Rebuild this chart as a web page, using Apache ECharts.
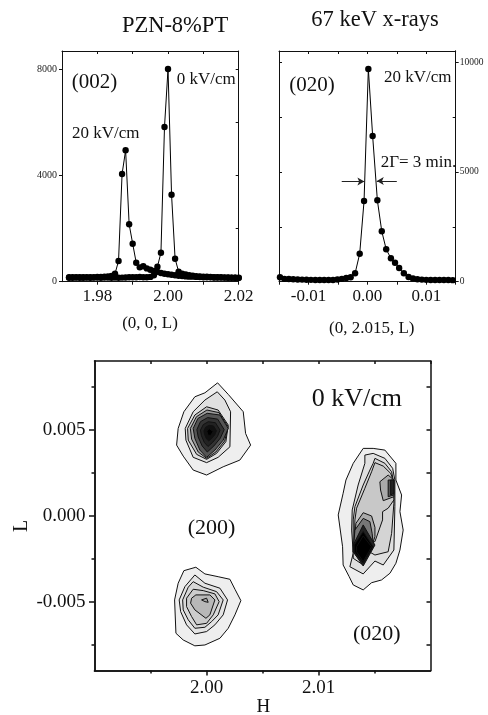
<!DOCTYPE html>
<html><head><meta charset="utf-8">
<style>html,body{margin:0;padding:0;background:#fff}#c{width:488px;height:715px}</style>
<script src="https://cdn.jsdelivr.net/npm/echarts@6/dist/echarts.min.js"></script>
</head><body><div id="c"></div>
<script>
// ---- Panel (002): scan along L
const scanL = [1.972,1.973,1.974,1.975,1.976,1.977,1.978,1.979,1.98,1.981,1.982,1.983,1.984,1.985,1.986,1.987,1.988,1.989,1.99,1.991,1.992,1.993,1.994,1.995,1.996,1.997,1.998,1.999,2.0,2.001,2.002,2.003,2.004,2.005,2.006,2.007,2.008,2.009,2.01,2.011,2.012,2.013,2.014,2.015,2.016,2.017,2.018,2.019,2.02];
const i0kV = [150,150,155,150,150,155,150,155,155,150,155,160,150,160,150,155,160,165,170,170,175,170,170,180,240,564,1090,5818,8000,3272,865,380,300,270,240,225,210,200,190,185,175,170,170,165,160,160,155,150,150];
const i20kV = [170,165,170,165,165,170,170,170,175,180,190,200,220,300,780,4050,4942,2160,1430,715,540,580,500,450,400,370,330,300,280,260,240,225,210,200,190,190,180,175,170,165,165,160,160,155,155,150,150,150,145];
// ---- Panel (020): scan along L
const scan020 = [-0.01483,-0.01408,-0.01333,-0.01258,-0.01183,-0.01108,-0.01033,-0.00958,-0.00883,-0.00808,-0.00733,-0.00658,-0.00583,-0.00508,-0.00433,-0.00358,-0.00283,-0.00208,-0.0013,-0.00056,0.00017,0.0009,0.0017,0.00245,0.0032,0.004,0.0047,0.0054,0.0062,0.007,0.00775,0.0085,0.00925,0.01,0.01075,0.0115,0.01225,0.013,0.01375,0.0145];
const i020 = [200,130,120,110,100,95,90,85,80,80,75,75,80,100,130,170,200,383,1276,3678,9695,6640,3710,2297,1477,1066,866,624,383,214,150,110,95,85,80,75,75,80,75,70];
// ---- Mesh contours: [H, L] vertices, outermost ring first
const a1=[[2.00099,.00773],[2.00194,.00706],[2.00328,.00605],[2.00349,.00479],[2.00394,.00411],[2.00298,.00324],[2.00149,.00285],[2.00001,.00237],[1.99881,.00266],[1.99792,.00347],[1.99733,.00411],[1.99747,.00508],[1.99798,.00605],[1.99896,.00692],[1.99986,.00715]];
const a2=[[2.00096,.00721],[2.00164,.00673],[2.00215,.00605],[2.00209,.00401],[2.00104,.0034],[2.00001,.00309],[1.99881,.0034],[1.99816,.0044],[1.9981,.00508],[1.99881,.00605],[1.99986,.00673]];
const a3=[[2.00001,.00634],[2.00104,.00615],[2.00194,.00528],[2.00173,.00431],[2.0009,.00363],[2.00001,.00328],[1.99912,.00357],[1.99837,.0044],[1.99831,.00508],[1.99896,.00586]];
const a4=[[2.00004,.00615],[2.00111,.006],[2.00194,.00518],[2.00162,.00435],[2.00084,.00371],[2.00001,.00334],[1.99926,.00371],[1.99867,.00446],[1.99856,.00508],[1.9991,.00576]];
const a5=[[2.00006,.00596],[2.0012,.00586],[2.00194,.00508],[2.00149,.0044],[2.00075,.00382],[2.00001,.0034],[1.99941,.00382],[1.99896,.0045],[1.99881,.00508],[1.99923,.00566]];
const a6=[[2.0001,.00571],[2.001,.00562],[2.00158,.00501],[2.00123,.00451],[2.00066,.00406],[2.00007,.00371],[1.99961,.00406],[1.99926,.00458],[1.99914,.00501],[1.99946,.00547]];
const a7=[[2.00016,.00547],[2.0008,.00541],[2.00121,.00498],[2.00097,.0046],[2.00055,.00427],[2.00013,.00403],[1.9998,.00427],[1.99955,.00466],[1.99946,.00498],[1.99971,.0053]];
const a8=[[2.00023,.00526],[2.00063,.00522],[2.00089,.00494],[2.00073,.0047],[2.00046,.00449],[2.0002,.00435],[1.99998,.00449],[1.99982,.00474],[1.99977,.00494],[1.99992,.00515]];
const a9=[[2.00027,.00506],[2.0006,.0049],[2.00038,.00468],[2.00014,.00468],[2.00004,.0049],[2.00011,.00501]];
const b1=[[1.99798,-.00319],[1.99905,-.00299],[1.99986,-.00338],[2.00104,-.00354],[2.00209,-.00369],[2.00254,-.00427],[2.00307,-.00493],[2.00254,-.00576],[2.00194,-.00654],[2.0012,-.00712],[1.99986,-.00751],[1.99896,-.00756],[1.99792,-.00722],[1.99727,-.00683],[1.99715,-.00489],[1.99747,-.00392]];
const b2=[[1.99896,-.00344],[1.99986,-.00392],[2.0012,-.00421],[2.00188,-.00489],[2.00149,-.00576],[2.00075,-.00634],[2.00001,-.00673],[1.99896,-.00687],[1.99822,-.00634],[1.99769,-.00557],[1.99756,-.00489],[1.99807,-.00412]];
const b3=[[1.99881,-.00383],[1.99971,-.00415],[2.0009,-.00441],[2.00149,-.00489],[2.00104,-.00576],[2.00046,-.00615],[1.99986,-.00648],[1.99896,-.00654],[1.99837,-.00605],[1.99792,-.00547],[1.99787,-.00489],[1.99837,-.00415]];
const b4=[[1.99881,-.00427],[1.99971,-.00435],[2.00075,-.00454],[2.00113,-.00499],[2.0006,-.00576],[2.00001,-.00625],[1.99912,-.00634],[1.99867,-.00586],[1.99822,-.00528],[1.99822,-.00479]];
const b5=[[1.99905,-.0046],[2.0003,-.0046],[2.00075,-.00489],[2.0003,-.00576],[1.99995,-.00596],[1.99896,-.00547],[1.99858,-.00508],[1.99867,-.00479]];
const b6=[[1.99956,-.00489],[2.00001,-.00479],[2.00015,-.00503],[1.99986,-.00499]];
const c1=[[2.01399,.00392],[2.01488,.00392],[2.01593,.00382],[2.01691,.00305],[2.01691,.00208],[2.01742,.00121],[2.01727,.00024],[2.01756,-.00083],[2.01727,-.00199],[2.01691,-.00276],[2.01638,-.00334],[2.01563,-.00373],[2.01474,-.00389],[2.01399,-.00431],[2.0131,-.00402],[2.01274,-.00354],[2.0122,-.00286],[2.01215,-.0018],[2.01176,.00005],[2.0122,.00131],[2.01245,.00208],[2.0131,.00305]];
const c2=[[2.01414,.00353],[2.01488,.00363],[2.01593,.00334],[2.01662,.00276],[2.01682,.00208],[2.01682,.00053],[2.01673,-.00199],[2.01578,-.00286],[2.01504,-.00263],[2.01399,-.00338],[2.0128,-.00296],[2.0131,-.00218],[2.01296,-.00083],[2.01301,.00034],[2.01354,.00179],[2.01414,.00305]];
const c3=[[2.01504,.00334],[2.01593,.00305],[2.01653,.00256],[2.01667,.00208],[2.01673,.00073],[2.01653,-.00102],[2.01622,-.00209],[2.01504,-.00228],[2.01453,-.00209],[2.01399,-.00286],[2.0131,-.00247],[2.0131,-.0017],[2.0131,-.00024],[2.01325,.00053],[2.01399,.00179],[2.01459,.00266],[2.01488,.00305]];
const c4=[[2.01504,.00309],[2.01578,.00289],[2.01644,.00247],[2.01667,.00208],[2.01673,.00092],[2.01622,.00044],[2.01572,.00024],[2.01572,-.00024],[2.01504,-.0015],[2.01444,-.0016],[2.01399,-.00267],[2.01325,-.00218],[2.01319,-.0016],[2.01325,-.00024],[2.0134,.00044],[2.01414,.0016],[2.01474,.00256]];
const c5=[[2.01548,.00198],[2.01622,.00237],[2.01673,.00208],[2.01673,.00111],[2.01578,.00088],[2.01554,.0015]];
const c6=[[2.01622,.00208],[2.01673,.00208],[2.01673,.00121],[2.01622,.00111]];
const c7=[[2.01644,.00208],[2.01673,.00208],[2.01673,.00131],[2.01644,.00121]];
const c8=[[2.01334,-.00044],[2.01399,.00018],[2.01474,-.00001],[2.01504,-.00067],[2.01504,-.00121],[2.01459,-.00209],[2.01399,-.00276],[2.01325,-.00209],[2.01319,-.0016]];
const c9=[[2.01325,-.00083],[2.01399,-.00015],[2.01459,-.00034],[2.01479,-.00102],[2.01488,-.0016],[2.01399,-.00286],[2.0131,-.00209]];
const c10=[[2.0131,-.0017],[2.01399,-.00053],[2.01504,-.0017],[2.01399,-.00292],[2.0131,-.00209]];
const c11=[[2.01319,-.0017],[2.01399,-.00092],[2.01488,-.0018],[2.01399,-.00276],[2.01319,-.00209]];
const c12=[[2.0134,-.0018],[2.01399,-.00117],[2.01474,-.0018],[2.01399,-.00267],[2.0134,-.00209]];
const ringsA=[a1,a2,a3,a4,a5,a6,a7,a8,a9];
const ringsB=[b1,b2,b3,b4,b5,b6];
const ringsC=[c1,c2,c3,c4,c5,c6,c7,c8,c9,c10,c11,c12];
// ---- Tick labels
const ticksX002=[1.98,1.99,2.0,2.01,2.02], labelsX002=[1.98,2.0,2.02];
const ticksX020=[-0.015,-0.01,-0.005,0,0.005,0.01,0.015], labelsX020=[-0.01,0,0.01];
const ticksH=[1.995,2.0,2.005,2.01,2.015,2.02], labelsH=[2.0,2.01], minorH=[1.995,2.005,2.015];
const labelsL=[-0.005,0,0.005], minorL=[-0.0075,-0.0025,0.0025,0.0075];

// ---- Styles
const SERIF='"Liberation Serif","Times New Roman",serif';
const fillsA=['#eeeeee','#e0e0e0','#c4c4c4','#999999','#555555','#333333','#222222','#111111','#000000'];
const fillsB=['#eeeeee','#e4e4e4','#d8d8d8','#cccccc','#b8b8b8','#aaaaaa'];
const fillsC=['#eeeeee','#e0e0e0','#d4d4d4','#c8c8c8','#aaaaaa','#555555','#222222','#aaaaaa','#777777','#222222','#000000','#000000'];
const allRings=[...ringsA,...ringsB,...ringsC];
const allFills=[...fillsA,...fillsB,...fillsC];

function axis(o){
  return {
    type:'value',gridIndex:o.g,position:o.pos,min:o.min,max:o.max,scale:true,
    splitLine:{show:false},
    axisLine:{show:true,onZero:false,lineStyle:{color:'#111',width:o.lw||1}},
    axisTick:{show:true,inside:!!o.inside,length:o.len||3,customValues:o.ticks,lineStyle:{color:'#111',width:o.lw||1}},
    axisLabel:{show:!!o.labels,customValues:o.labels||[],margin:o.margin||5,fontFamily:SERIF,fontSize:o.fs||10,color:o.color||'#222',formatter:o.fmt,showMinLabel:true,showMaxLabel:true,hideOverlap:false}
  };
}
const f2=v=>v.toFixed(2), f0=v=>String(Math.round(v)), f3=v=>v.toFixed(3);
const yr1={min:0,max:8677}, yr2={min:0,max:10515}, xr1={min:1.97,max:2.02}, xr2={min:-0.015,max:0.015}, hr={min:1.99,max:2.02}, lr={min:-0.009,max:0.009};

const xAxis=[
 axis({g:0,pos:'bottom',...xr1,ticks:ticksX002,labels:labelsX002,fmt:f2,fs:17,margin:6,color:'#111',len:3}),
 axis({g:0,pos:'top',...xr1,ticks:ticksX002,inside:true,len:3}),
 axis({g:1,pos:'bottom',...xr2,ticks:ticksX020,labels:labelsX020,fmt:f2,fs:17,margin:6,color:'#111',len:3}),
 axis({g:1,pos:'top',...xr2,ticks:ticksX020,inside:true,len:3}),
 axis({g:2,pos:'bottom',...hr,ticks:labelsH,labels:labelsH,fmt:f2,fs:19,margin:8,color:'#111',len:5,lw:1.5}),
 axis({g:2,pos:'bottom',...hr,ticks:minorH,len:3,lw:1.5}),
 axis({g:2,pos:'top',...hr,ticks:ticksH,inside:true,len:3,lw:1.5})
];
const yAxis=[
 axis({g:0,pos:'left',...yr1,ticks:[0,4000,8000],labels:[0,4000,8000],fmt:f0,fs:10,len:3,margin:5}),
 axis({g:0,pos:'right',...yr1,ticks:[2000,4000,6000,8000],inside:true,len:3}),
 axis({g:1,pos:'left',...yr2,ticks:[2500,5000,7500,10000],inside:true,len:3}),
 axis({g:1,pos:'right',...yr2,ticks:[0,5000,10000],labels:[0,5000,10000],fmt:f0,fs:9.5,len:3,margin:4}),
 axis({g:1,pos:'right',...yr2,ticks:[2500,7500],inside:true,len:3}),
 axis({g:2,pos:'left',...lr,ticks:labelsL,labels:labelsL,fmt:f3,fs:19,margin:9,color:'#111',len:5.5,lw:1.5}),
 axis({g:2,pos:'left',...lr,ticks:minorL,len:3,lw:1.5}),
 axis({g:2,pos:'right',...lr,ticks:[...labelsL,...minorL],inside:true,len:4,lw:1.5})
];
function scan(xs,ys,xi,yi,extra){
  return Object.assign({type:'line',xAxisIndex:xi,yAxisIndex:yi,data:xs.map((x,i)=>[x,ys[i]]),clip:false,
    symbol:'circle',symbolSize:6.4,showSymbol:true,showAllSymbol:true,silent:true,
    itemStyle:{color:'#000'},lineStyle:{color:'#000',width:1},z:3,animation:false},extra||{});
}
const arrowLine={silent:true,animation:false,symbol:['none','arrow'],symbolSize:[6,7],label:{show:false},
  lineStyle:{color:'#222',width:1,type:'solid'},
  data:[[{coord:[-0.00435,4567]},{coord:[-0.0005,4567]}],[{coord:[0.005,4590]},{coord:[0.0016,4590]}]]};

const texts=[
 ['PZN-8%PT',175,26,22.5,'center'],['67 keV x-rays',375,20,22.5,'center'],
 ['(002)',71.7,82.7,21,'left'],['0 kV/cm',176.7,80,17,'left'],['20 kV/cm',72,134,17,'left'],
 ['(0, 0, L)',150,324,17,'center'],
 ['(020)',289.3,85.7,21,'left'],['20 kV/cm',384,77.7,17,'left'],['2Γ= 3 min.',380.7,162.3,17,'left'],
 ['(0, 2.015, L)',371.7,328.3,17,'center'],
 ['0 kV/cm',311.7,399,26,'left'],['(200)',187.7,528,22,'left'],['(020)',353,634,22,'left']
];
const graphic=texts.map(t=>({type:'text',x:t[1],y:t[2],z:10,style:{text:t[0],font:t[3]+'px '+SERIF,fill:'#111',textAlign:t[4],textVerticalAlign:'middle'}}));
graphic.push({type:'text',x:21.7,y:526,rotation:Math.PI/2,z:10,style:{text:'L',font:'20px '+SERIF,fill:'#111',textAlign:'center',textVerticalAlign:'middle'}});
graphic.push({type:'text',x:263.3,y:707,z:10,style:{text:'H',font:'19px '+SERIF,fill:'#111',textAlign:'center',textVerticalAlign:'middle'}});

const option={
 animation:false,backgroundColor:'#fff',
 grid:[
  {left:62,top:51,width:176.7,height:230.7},
  {left:279,top:51,width:176.7,height:230.7},
  {left:94.5,top:361,width:336,height:309.6}
 ],
 xAxis,yAxis,graphic,
 series:[
  scan(scanL,i0kV,0,0),
  scan(scanL,i20kV,0,0),
  scan(scan020,i020,2,2,{markLine:arrowLine}),
  {type:'custom',coordinateSystem:'cartesian2d',xAxisIndex:4,yAxisIndex:5,silent:true,clip:false,animation:false,z:2,
   encode:{x:0,y:1},
   data:allRings.map((r,i)=>[r[0][0],r[0][1],i]),
   renderItem(params,api){
     const i=api.value(2);
     return {type:'polygon',shape:{points:allRings[i].map(p=>api.coord(p))},
       style:{fill:allFills[i],stroke:'#111',lineWidth:1}};
   }}
 ]
};
echarts.init(document.getElementById('c'),null,{renderer:'canvas'}).setOption(option);
</script></body></html>
